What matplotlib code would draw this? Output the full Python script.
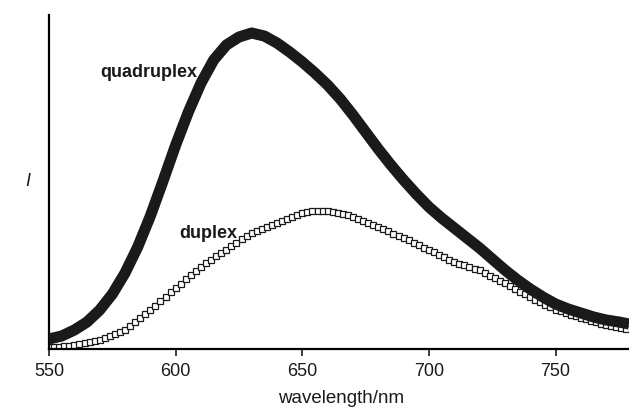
import matplotlib
matplotlib.use('Agg')
import matplotlib.pyplot as plt

plt.rcParams['font.family'] = ['Liberation Sans', 'DejaVu Sans']

# quadruplex emission (arbitrary units), every 5 nm
quad_wl = [550, 555, 560, 565, 570, 575, 580, 585, 590, 595, 600, 605, 610,
           615, 620, 625, 630, 635, 640, 645, 650, 655, 660, 665, 670, 675,
           680, 685, 690, 695, 700, 705, 710, 715, 720, 725, 730, 735, 740,
           745, 750, 755, 760, 765, 770, 775, 779]
quad_int = [10, 13, 19, 27, 39, 55, 76, 102, 133, 168, 204, 237, 266,
            289, 304, 312, 316, 313, 306, 297, 287, 276, 264, 250, 234, 217,
            200, 184, 169, 155, 142, 131, 121, 111, 101, 90, 79, 69, 60,
            52, 45, 40, 36, 32, 29, 27, 25]

# duplex emission, every 2 nm from 550 to 778
duplex_wl = list(range(550, 780, 2))
duplex_int = [2, 2, 2, 3, 3, 4, 5, 6, 7, 8,
              9, 11, 13, 15, 17, 19, 23, 27, 31, 35,
              39, 43, 48, 52, 57, 61, 65, 70, 74, 78,
              82, 86, 89, 93, 96, 99, 103, 106, 110, 113,
              116, 118, 120, 122, 124, 126, 128, 130, 132, 134,
              136, 137, 138, 138, 138, 138, 137, 136, 135, 134,
              132, 130, 128, 126, 124, 122, 120, 118, 115, 113,
              111, 109, 106, 104, 101, 99, 97, 94, 92, 89,
              87, 85, 84, 82, 80, 79, 76, 73, 71, 68,
              66, 63, 60, 57, 55, 52, 49, 47, 44, 42,
              39, 38, 36, 34, 33, 31, 30, 28, 27, 25,
              24, 23, 22, 21, 20]

xticks = [550, 600, 650, 700, 750]

fig = plt.figure(figsize=(6.29, 4.08), dpi=100)
ax = fig.add_axes([0.078, 0.1446, 0.922, 0.8186])

ax.plot(quad_wl, quad_int, color='#1a1a1a', linewidth=8,
        solid_capstyle='butt', solid_joinstyle='round', zorder=3)
ax.plot(duplex_wl, duplex_int, linestyle='none', marker='s', markersize=5,
        markerfacecolor='white', markeredgecolor='#1a1a1a',
        markeredgewidth=0.9, zorder=2)

ax.set_xlim(550, 779)
ax.set_ylim(0, 334)

ax.spines['top'].set_visible(False)
ax.spines['right'].set_visible(False)
ax.spines['bottom'].set_linewidth(1.6)
ax.spines['left'].set_linewidth(1.6)

ax.set_xticks(xticks)
ax.set_yticks([])
ax.tick_params(axis='x', direction='out', length=5, width=1.2,
               labelsize=13, pad=5, colors='#1a1a1a')

ax.text(589.4, 272, 'quadruplex', fontsize=13, fontweight='bold',
        ha='center', va='baseline', color='#1a1a1a')
ax.text(612.7, 111, 'duplex', fontsize=13, fontweight='bold',
        ha='center', va='baseline', color='#1a1a1a')

fig.text(341 / 629, 1 - 403 / 408, 'wavelength/nm', fontsize=13.5,
         ha='center', va='baseline', color='#1a1a1a')
fig.text(28 / 629, 1 - 181 / 408, 'I', fontsize=13, style='italic',
         ha='center', va='center', color='#1a1a1a')

fig.savefig('out.png', dpi=100)
